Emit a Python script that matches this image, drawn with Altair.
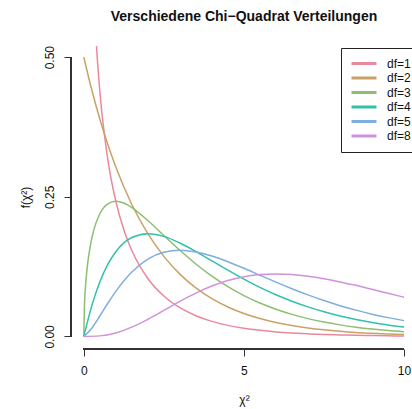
import altair as alt
import pandas as pd

# ---- data ----
labels = ["df=1", "df=2", "df=3", "df=4", "df=5", "df=8"]
colors = ["#E8899E", "#C9A266", "#8DBE72", "#33C0AA", "#7EAEE0", "#D092DB"]

grid = [0, 0.5, 1, 1.5, 2, 2.5, 3, 3.5, 4, 4.5, 5, 5.5, 6, 6.5, 7, 7.5, 8, 8.5, 9, 9.5, 10]

df1_x = [0.3, 0.4, 0.5, 0.75, 1, 1.25, 1.5, 2, 2.5, 3, 3.5, 4, 4.5, 5, 5.5, 6, 6.5, 7, 7.5, 8, 8.5, 9, 9.5, 10]
df1_y = [0.6269, 0.5164, 0.4394, 0.3166, 0.2420, 0.1910, 0.1539, 0.1038, 0.0723, 0.0514, 0.0371, 0.0270,
         0.0198, 0.0146, 0.0109, 0.0081, 0.0061, 0.0046, 0.0034, 0.0026, 0.0020, 0.0015, 0.0011, 0.00085]

df2_x = [0, 0.25, 0.5, 0.75, 1, 1.5, 2, 2.5, 3, 3.5, 4, 4.5, 5, 5.5, 6, 6.5, 7, 7.5, 8, 8.5, 9, 9.5, 10]
df2_y = [0.5, 0.4412, 0.3894, 0.3437, 0.3033, 0.2362, 0.1839, 0.1433, 0.1116, 0.0869, 0.0677, 0.0527,
         0.0410, 0.0320, 0.0249, 0.0194, 0.0151, 0.0118, 0.0092, 0.0071, 0.0056, 0.0043, 0.0034]

df3_x = [0, 0.02, 0.05, 0.1, 0.2, 0.3, 0.5, 0.75, 1, 1.25, 1.5, 2, 2.5, 3, 3.5, 4, 4.5, 5, 5.5, 6, 6.5, 7,
         7.5, 8, 8.5, 9, 9.5, 10]
df3_y = [0, 0.0559, 0.0870, 0.1200, 0.1614, 0.1881, 0.2197, 0.2375, 0.2420, 0.2388, 0.2308, 0.2076, 0.1807,
         0.1542, 0.1297, 0.1080, 0.0892, 0.0732, 0.0598, 0.0487, 0.0395, 0.0319, 0.0257, 0.0207, 0.0166,
         0.0133, 0.0106, 0.0085]

df4_x = [0, 0.25, 0.5, 0.75, 1, 1.5, 2, 2.5, 3, 3.5, 4, 4.5, 5, 5.5, 6, 6.5, 7, 7.5, 8, 8.5, 9, 9.5, 10]
df4_y = [0, 0.0552, 0.0974, 0.1289, 0.1516, 0.1771, 0.1839, 0.1791, 0.1673, 0.1521, 0.1353, 0.1186, 0.1026,
         0.0879, 0.0747, 0.0631, 0.0529, 0.0441, 0.0366, 0.0304, 0.0250, 0.0205, 0.0168]

df5_x = [0, 0.25, 0.5, 0.75, 1, 1.5, 2, 2.5, 3, 3.5, 4, 4.5, 5, 5.5, 6, 6.5, 7, 7.5, 8, 8.5, 9, 9.5, 10]
df5_y = [0, 0.0147, 0.0366, 0.0594, 0.0807, 0.1154, 0.1384, 0.1506, 0.1542, 0.1513, 0.1440, 0.1338, 0.1221,
         0.1096, 0.0973, 0.0855, 0.0744, 0.0642, 0.0551, 0.0471, 0.0399, 0.0337, 0.0283]

df8_x = grid
df8_y = [0, 0.0010, 0.0063, 0.0166, 0.0307, 0.0466, 0.0628, 0.0776, 0.0902, 0.1000, 0.1069, 0.1107, 0.1120,
         0.1110, 0.1079, 0.1033, 0.0976, 0.0915, 0.0843, 0.0773, 0.0702]

series = [(labels[0], df1_x, df1_y), (labels[1], df2_x, df2_y), (labels[2], df3_x, df3_y),
          (labels[3], df4_x, df4_y), (labels[4], df5_x, df5_y), (labels[5], df8_x, df8_y)]
rows = []
for name, xs, ys in series:
    for i, (xv, yv) in enumerate(zip(xs, ys)):
        rows.append({"df": name, "x": xv, "y": yv, "order": i})
data = pd.DataFrame(rows)

FONT = "Liberation Sans"
W, H = 341, 303

xscale = alt.Scale(domain=[-0.4, 10.25], nice=False, zero=False)
yscale = alt.Scale(domain=[-0.0225, 0.52], nice=False, zero=False)

lines = alt.Chart(data).mark_line(clip=True, interpolate="monotone", strokeWidth=1.5).encode(
    x=alt.X("x:Q", scale=xscale,
            axis=alt.Axis(values=[0, 5, 10], domain=False, tickSize=7, tickColor="#333",
                          labelFontSize=12, labelFont=FONT, labelColor="#111", labelPadding=9,
                          grid=False, title="χ²", titleFont=FONT, titleFontSize=12,
                          titleFontWeight="normal", titleColor="#111",
                          titleX=173, titleY=50, titleBaseline="middle", titleAlign="center")),
    y=alt.Y("y:Q", scale=yscale,
            axis=alt.Axis(values=[0, 0.25, 0.5], format=".2f", domain=False, tickSize=7,
                          tickColor="#333", labelFontSize=12, labelFont=FONT, labelColor="#111",
                          labelAngle=270, labelAlign="center", labelBaseline="alphabetic",
                          labelPadding=11, grid=False, title="f(χ²)", titleFont=FONT,
                          titleFontSize=12, titleFontWeight="normal", titleColor="#111",
                          titleAngle=270, titleX=-46, titleY=151, titleAlign="center",
                          titleBaseline="middle")),
    color=alt.Color("df:N", scale=alt.Scale(domain=labels, range=colors),
                    legend=alt.Legend(orient="none", legendX=270, legendY=2, title=None,
                                      symbolType="stroke", symbolSize=625, symbolStrokeWidth=3,
                                      labelFontSize=12, labelFont=FONT, labelColor="#111",
                                      labelOffset=9, padding=9, rowPadding=1.5, clipHeight=13,
                                      strokeColor="#222", fillColor="white")),
    order="order:Q",
)

yaxis_line = alt.Chart(data).mark_rule(color="#333", strokeWidth=1).encode(
    x=alt.value(0), y=alt.datum(0, scale=yscale), y2=alt.datum(0.5))
xaxis_line = alt.Chart(data).mark_rule(color="#333", strokeWidth=1).encode(
    y=alt.value(H), x=alt.datum(0, scale=xscale), x2=alt.datum(10))

chart = alt.layer(lines, yaxis_line, xaxis_line).properties(
    width=W, height=H,
    background="white",
    autosize=alt.AutoSizeParams(type="none"),
    padding={"left": 71, "top": 46, "right": 0, "bottom": 60},
    title=alt.TitleParams("Verschiedene Chi−Quadrat Verteilungen", font=FONT, fontSize=14,
                          fontWeight="bold", anchor="middle", frame="group", dx=2.5,
                          baseline="alphabetic", offset=10, color="#111"),
).configure_view(stroke=None)

chart.save("out.html", embed_options={"renderer": "svg", "actions": False})
